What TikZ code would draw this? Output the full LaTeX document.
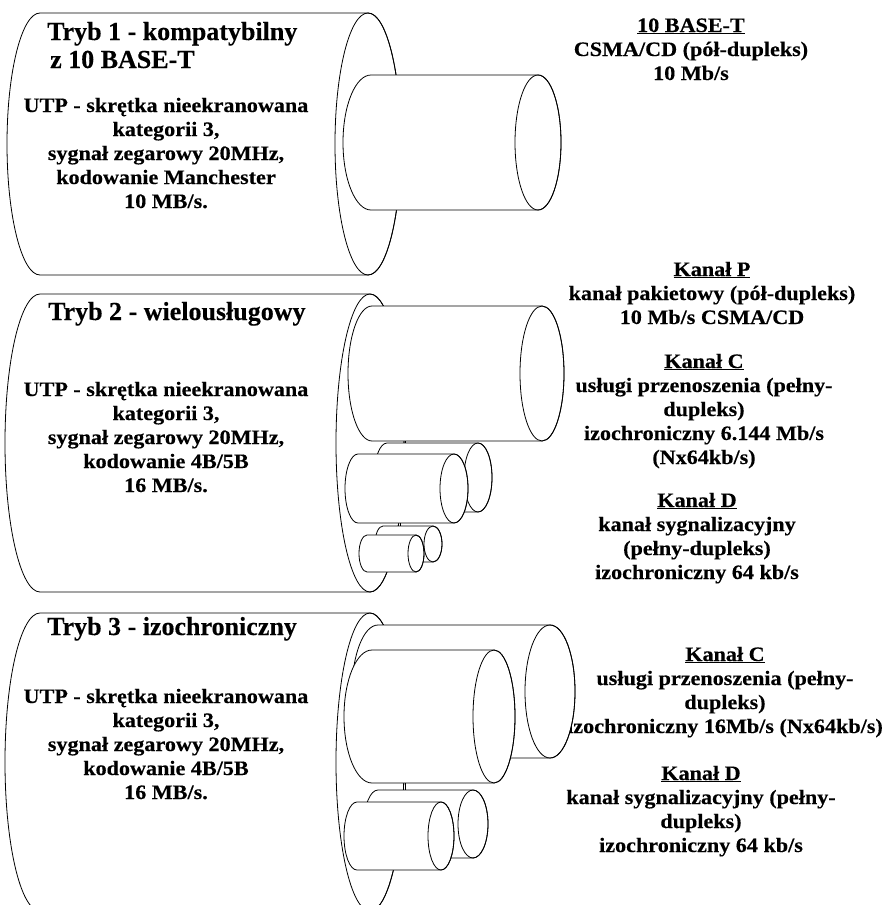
\documentclass[tikz,border=0pt]{standalone}
\usepackage{fontspec}
\setmainfont{Liberation Serif}[FakeBold=0.3]
\newfontfamily\widefont[FakeStretch=1.08, FakeBold=0.3]{Liberation Serif}

\tikzset{
  wire/.style={line width=0.8pt, line join=round},
  body/.style={wire, fill=white},
  heading/.style={font=\bfseries\fontsize{26}{28}\selectfont, inner sep=0pt, align=left},
  txt/.style={font=\widefont\bfseries\fontsize{20.5}{24}\selectfont, inner sep=0pt, align=center},
}

% Cylinder seen from the right: #1 left x, #2 right x, #3 top, #4 bottom,
% #5 radius of the left half-ellipse, #6 radius of the right end face
\newcommand{\cyl}[6]{%
  \draw[body] (#1,-#3) -- (#2,-#3)
    arc[start angle=90, end angle=-90, x radius=#6pt, y radius={((#4)-(#3))/2*1pt}]
    -- (#1,-#4)
    arc[start angle=-90, end angle=-270, x radius=#5pt, y radius={((#4)-(#3))/2*1pt}]
    -- cycle;
  \draw[wire] (#2,{-((#3)+(#4))/2}) ellipse[x radius=#6pt, y radius={((#4)-(#3))/2*1pt}];
}

\begin{document}
\begin{tikzpicture}[x=1pt, y=1pt]
  \useasboundingbox (0,0) rectangle (888,-905);
  \clip (0,0) rectangle (888,-905);

  % outer cables
  \cyl{40}{368}{13}{275}{33}{33}
  \cyl{40}{370}{294}{592}{35}{34}
  \cyl{40}{370}{613}{911}{35}{34}

  % mode descriptions (nodes are anchored at the baseline of their last line)
  \node[heading, anchor=base west] (tryb1) at (47,-68) {Tryb 1 - kompatybilny\\\hspace*{3pt}z 10 BASE-T};
  \node[txt, anchor=base] (opis1) at (166,-208) {UTP - skrętka nieekranowana\\kategorii 3,\\sygnał zegarowy 20MHz,\\kodowanie Manchester\\10 MB/s.};

  \node[heading, anchor=base west] (tryb2) at (48,-320) {Tryb 2 - wielousługowy};
  \node[txt, anchor=base] (opis2) at (166,-492) {UTP - skrętka nieekranowana\\kategorii 3,\\sygnał zegarowy 20MHz,\\kodowanie 4B/5B\\16 MB/s.};

  \node[heading, anchor=base west] (tryb3) at (47,-635) {Tryb 3 - izochroniczny};
  \node[txt, anchor=base] (opis3) at (166,-799) {UTP - skrętka nieekranowana\\kategorii 3,\\sygnał zegarowy 20MHz,\\kodowanie 4B/5B\\16 MB/s.};

  % channel descriptions
  \node[txt, anchor=base] (base10) at (691,-80) {\underline{10 BASE-T}\\CSMA/CD (pół-dupleks)\\10 Mb/s};

  \node[txt, anchor=base] (kanP) at (712,-324) {\underline{Kanał P}\\kanał pakietowy (pół-dupleks)\\10 Mb/s CSMA/CD};
  \node[txt, anchor=base] (kanC2) at (704,-464) {\underline{Kanał C}\\usługi przenoszenia (pełny-\\dupleks)\\izochroniczny 6.144 Mb/s\\(Nx64kb/s)};
  \node[txt, anchor=base] (kanD2) at (697,-579) {\underline{Kanał D}\\kanał sygnalizacyjny\\(pełny-dupleks)\\izochroniczny 64 kb/s};

  \node[txt, anchor=base] (kanC3) at (725,-733) {\underline{Kanał C}\\usługi przenoszenia (pełny-\\dupleks)\\izochroniczny 16Mb/s (Nx64kb/s)};
  \node[txt, anchor=base] (kanD3) at (701,-852) {\underline{Kanał D}\\kanał sygnalizacyjny (pełny-\\dupleks)\\izochroniczny 64 kb/s};

  % mode 1: single channel
  \cyl{371}{538}{75}{210}{28}{23}

  % mode 2: channels P, C and D
  \cyl{372}{542}{306}{441}{24}{22}
  \draw[wire] (405,-441) -- (405,-443);
  \cyl{387}{478}{443}{512}{13}{14}
  \cyl{358}{454}{454}{523}{13}{14}
  \draw[wire] (400,-523) -- (400,-526);
  \cyl{383}{433}{526}{562}{8}{9}
  \cyl{367}{416}{535}{572}{8}{8}

  % mode 3: channels C and D
  \cyl{378}{550}{625}{758}{26}{25}
  \cyl{372}{494}{650}{783}{28}{21}
  \draw[wire] (405,-783) -- (405,-790);
  \cyl{378}{473}{790}{858}{14}{15}
  \cyl{357}{441}{802}{870}{13}{13}
\end{tikzpicture}
\end{document}
